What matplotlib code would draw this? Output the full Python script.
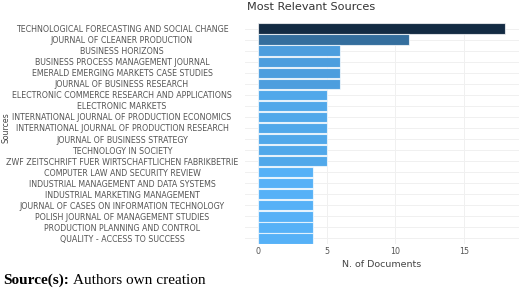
import matplotlib
matplotlib.use("Agg")
import matplotlib.pyplot as plt
import numpy as np
from matplotlib.colors import LinearSegmentedColormap

sources = [
    "TECHNOLOGICAL FORECASTING AND SOCIAL CHANGE",
    "JOURNAL OF CLEANER PRODUCTION",
    "BUSINESS HORIZONS",
    "BUSINESS PROCESS MANAGEMENT JOURNAL",
    "EMERALD EMERGING MARKETS CASE STUDIES",
    "JOURNAL OF BUSINESS RESEARCH",
    "ELECTRONIC COMMERCE RESEARCH AND APPLICATIONS",
    "ELECTRONIC MARKETS",
    "INTERNATIONAL JOURNAL OF PRODUCTION ECONOMICS",
    "INTERNATIONAL JOURNAL OF PRODUCTION RESEARCH",
    "JOURNAL OF BUSINESS STRATEGY",
    "TECHNOLOGY IN SOCIETY",
    "ZWF ZEITSCHRIFT FUER WIRTSCHAFTLICHEN FABRIKBETRIE",
    "COMPUTER LAW AND SECURITY REVIEW",
    "INDUSTRIAL MANAGEMENT AND DATA SYSTEMS",
    "INDUSTRIAL MARKETING MANAGEMENT",
    "JOURNAL OF CASES ON INFORMATION TECHNOLOGY",
    "POLISH JOURNAL OF MANAGEMENT STUDIES",
    "PRODUCTION PLANNING AND CONTROL",
    "QUALITY - ACCESS TO SUCCESS",
]
documents = [18, 11, 6, 6, 6, 6, 5, 5, 5, 5, 5, 5, 5, 4, 4, 4, 4, 4, 4, 4]
x_ticks = [0, 5, 10, 15]

W, H = 520, 290
fig = plt.figure(figsize=(W / 100, H / 100), dpi=100)
ax = fig.add_axes([245 / W, 1 - 244 / H, (519 - 245) / W, (244 - 23) / H])

cmap = LinearSegmentedColormap.from_list("g", ["#56B1F7", "#132B43"])
vals = np.array(documents, dtype=float)
norm = (vals - vals.min()) / (vals.max() - vals.min())
colors = [cmap(v) for v in norm]

y = np.arange(len(sources))
ax.barh(y, documents, height=0.93, color=colors, edgecolor=(1, 1, 1, 0.7),
        linewidth=0.8, zorder=3)

ax.set_ylim(len(sources) - 0.5, -0.5)
ax.set_xlim(-0.95, 19.0)
ax.set_xticks(x_ticks)
ax.set_xticklabels([str(t) for t in x_ticks], fontsize=5.8, color="#555555")
ax.set_yticks(y)
ax.set_yticklabels(sources, fontsize=5.7, color="#555555")
for lab in ax.get_yticklabels():
    lab.set_horizontalalignment("center")
ax.tick_params(axis="y", length=0, pad=(245 - 122) * 0.72)
ax.tick_params(axis="x", length=0, pad=2)

ax.grid(True, color="#f0f0f0", linewidth=0.7, zorder=0)
ax.set_axisbelow(True)
for s in ax.spines.values():
    s.set_visible(False)

ax.set_xlabel("N. of Documents", fontsize=6.8, color="#444444", labelpad=3)
fig.text(311 / W, 1 - 7 / H, "Most Relevant Sources", fontsize=8.1,
         color="#333333", ha="center", va="center")
fig.text(6 / W, 1 - 128 / H, "Sources", fontsize=5.6, color="#444444",
         rotation=90, ha="center", va="center")

t1 = fig.text(3 / W, 1 - 280 / H, "Source(s):", fontsize=11, fontweight="bold",
              family="Liberation Serif", ha="left", va="center", color="black")
fig.canvas.draw()
bb = t1.get_window_extent()
fig.text((bb.x1 + 4) / W, 1 - 280 / H, "Authors own creation", fontsize=11,
         family="Liberation Serif", ha="left", va="center", color="black")

fig.savefig("out.png", dpi=100, facecolor="white")
